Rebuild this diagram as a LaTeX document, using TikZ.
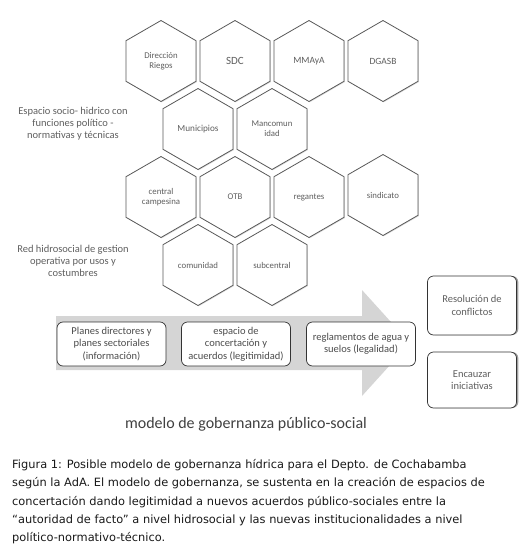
\documentclass[tikz,border=0pt]{standalone}
\usepackage{fontspec}
\setmainfont{Carlito}
\newfontfamily\captionfont{DejaVu Sans}
\usepackage{tikz}
\usetikzlibrary{shapes.geometric,shadows}

\definecolor{hexdraw}{HTML}{595959}
\definecolor{labelgray}{HTML}{5F5F5F}
\definecolor{bandgray}{HTML}{D5D5D5}

\begin{document}
\begin{tikzpicture}[x=1pt,y=-1pt,
  hexa/.style={regular polygon,regular polygon sides=6,shape border rotate=30,
    minimum size=81pt,inner sep=0pt,draw=hexdraw,line width=0.8pt,fill=white,
    drop shadow={shadow xshift=0.8pt,shadow yshift=-0.8pt,opacity=0.3},
    text=labelgray,align=center,font=\fontsize{8.8}{10.2}\selectfont},
  sidelabel/.style={align=center,text=labelgray,font=\fontsize{10.5}{12}\selectfont},
  stepbox/.style={draw=black!80,line width=0.7pt,rounded corners=6pt,fill=white,
    minimum width=109pt,minimum height=44pt,inner sep=1pt,align=center,
    text=black!70,font=\fontsize{10.5}{12.3}\selectfont},
  outbox/.style={draw=black!80,line width=0.7pt,rounded corners=6pt,fill=white,
    minimum width=89pt,align=center,text=labelgray,
    drop shadow={shadow xshift=1.8pt,shadow yshift=0pt,opacity=0.75},
    font=\fontsize{10.5}{12.3}\selectfont}]
\useasboundingbox (0,0) rectangle (532,555);

\node[hexa] (riegos) at (161,61) {Dirección\\Riegos};
\node[hexa,font=\fontsize{11}{12}\selectfont] (sdc) at (235,61) {SDC};
\node[hexa,font=\fontsize{9.5}{11}\selectfont] (mmaya) at (309,61) {MMAyA};
\node[hexa,font=\fontsize{9.5}{11}\selectfont] (dgasb) at (383,61) {DGASB};
\node[hexa,font=\fontsize{9.2}{10.5}\selectfont] (municipios) at (198,129) {Municipios};
\node[hexa] (mancomunidad) at (272,129) {Mancomun\\idad};
\node[hexa] (campesina) at (161,197) {central\\campesina};
\node[hexa] (otb) at (235,197) {OTB};
\node[hexa] (regantes) at (309,197) {regantes};
\node[hexa] (sindicato) at (383,195) {sindicato};
\node[hexa] (comunidad) at (198,265) {comunidad};
\node[hexa] (subcentral) at (272,265) {subcentral};

\node[sidelabel] (politico) at (73,124) {Espacio socio- hidrico con\\funciones político -\\normativas y técnicas};
\node[sidelabel] (operativo) at (73,261) {Red hidrosocial de gestion\\operativa por usos y\\costumbres};

\fill[bandgray] (56,316) -- (362,316) -- (362,290) -- (410,343) -- (362,396) -- (362,370) -- (56,370) -- cycle;
\node[stepbox] (planes) at (111.5,344) {Planes directores y\\planes sectoriales\\(información)};
\node[stepbox] (espacio) at (236,344) {espacio de\\concertación y\\acuerdos (legitimidad)};
\node[stepbox] (reglamentos) at (361,344) {reglamentos de agua y\\suelos (legalidad)};

\node[outbox,minimum height=59pt] (resolucion) at (472,305.5) {Resolución de\\conflictos};
\node[outbox,minimum height=56pt] (encauzar) at (472,380) {Encauzar\\iniciativas};

\node[text=black!75,font=\fontsize{16}{18}\selectfont] (modelo) at (246,424) {modelo de gobernanza público-social};

\node[anchor=north west,inner sep=0pt,align=left,text=black!90,
  font=\captionfont\fontsize{11.4}{18.4}\selectfont] (figura) at (12,459)
  {Figura 1: Posible modelo de gobernanza hídrica para el Depto. de Cochabamba\\
   según la AdA. El modelo de gobernanza, se sustenta en la creación de espacios de\\
   concertación dando legitimidad a nuevos acuerdos público-sociales entre la\\
   “autoridad de facto” a nivel hidrosocial y las nuevas institucionalidades a nivel\\
   político-normativo-técnico.};
\end{tikzpicture}
\end{document}
